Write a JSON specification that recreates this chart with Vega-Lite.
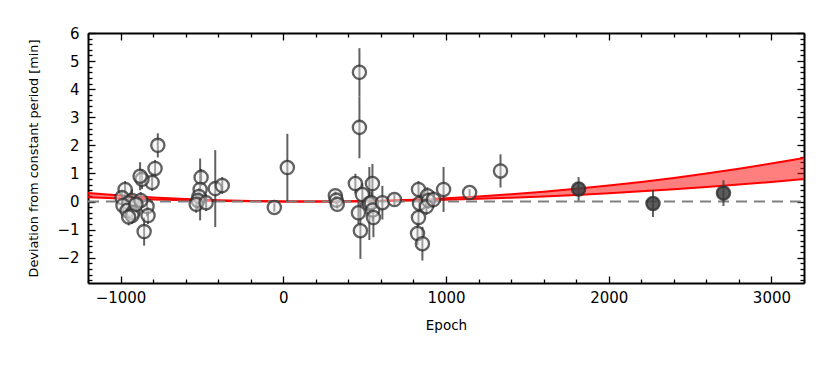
{
  "$schema": "https://vega.github.io/schema/vega-lite/v6.json",
  "width": 716,
  "height": 250,
  "autosize": "none",
  "padding": {"left": 88, "top": 33, "right": 26, "bottom": 83},
  "background": "white",
  "config": {
    "view": {"stroke": null},
    "axis": {
      "labelFont": "DejaVu Sans", "labelFontSize": 15, "labelColor": "black",
      "titleFont": "DejaVu Sans", "titleFontSize": 13.5, "titleFontWeight": "normal", "titleColor": "black",
      "domainColor": "black", "domainWidth": 2, "tickColor": "black", "tickWidth": 1.3, "grid": false
    }
  },
  "datasets": {
    "band": [
      {"epoch": -1200, "lo": 0.150, "hi": 0.300},
      {"epoch": -1000, "lo": 0.108, "hi": 0.217},
      {"epoch": -800, "lo": 0.073, "hi": 0.147},
      {"epoch": -600, "lo": 0.044, "hi": 0.090},
      {"epoch": -400, "lo": 0.023, "hi": 0.047},
      {"epoch": -200, "lo": 0.008, "hi": 0.017},
      {"epoch": 0, "lo": 0.0, "hi": 0.0},
      {"epoch": 200, "lo": -0.001, "hi": -0.003},
      {"epoch": 400, "lo": 0.005, "hi": 0.007},
      {"epoch": 600, "lo": 0.017, "hi": 0.030},
      {"epoch": 800, "lo": 0.036, "hi": 0.067},
      {"epoch": 1000, "lo": 0.063, "hi": 0.117},
      {"epoch": 1200, "lo": 0.095, "hi": 0.181},
      {"epoch": 1400, "lo": 0.135, "hi": 0.258},
      {"epoch": 1600, "lo": 0.182, "hi": 0.348},
      {"epoch": 1800, "lo": 0.235, "hi": 0.451},
      {"epoch": 2000, "lo": 0.295, "hi": 0.568},
      {"epoch": 2200, "lo": 0.362, "hi": 0.699},
      {"epoch": 2400, "lo": 0.436, "hi": 0.842},
      {"epoch": 2600, "lo": 0.517, "hi": 0.999},
      {"epoch": 2800, "lo": 0.604, "hi": 1.169},
      {"epoch": 3000, "lo": 0.699, "hi": 1.353},
      {"epoch": 3200, "lo": 0.800, "hi": 1.550}
    ],
    "pts": [
      {"epoch": -771, "dev": 2.0, "err": 0.43, "kind": "open"},
      {"epoch": -788, "dev": 1.18, "err": 0.3, "kind": "open"},
      {"epoch": -806, "dev": 0.68, "err": 0.3, "kind": "open"},
      {"epoch": -868, "dev": 0.79, "err": 0.35, "kind": "open"},
      {"epoch": -880, "dev": 0.9, "err": 0.5, "kind": "open"},
      {"epoch": -972, "dev": 0.43, "err": 0.3, "kind": "open"},
      {"epoch": -991, "dev": 0.14, "err": 0.25, "kind": "open"},
      {"epoch": -929, "dev": 0.04, "err": 0.4, "kind": "open"},
      {"epoch": -950, "dev": -0.05, "err": 0.3, "kind": "open"},
      {"epoch": -985, "dev": -0.14, "err": 0.2, "kind": "open"},
      {"epoch": -960, "dev": -0.32, "err": 0.3, "kind": "open"},
      {"epoch": -923, "dev": -0.39, "err": 0.3, "kind": "open"},
      {"epoch": -929, "dev": -0.5, "err": 0.3, "kind": "open"},
      {"epoch": -950, "dev": -0.55, "err": 0.3, "kind": "open"},
      {"epoch": -837, "dev": -0.18, "err": 0.35, "kind": "open"},
      {"epoch": -831, "dev": -0.5, "err": 0.3, "kind": "open"},
      {"epoch": -855, "dev": -1.07, "err": 0.5, "kind": "open"},
      {"epoch": -876, "dev": 0.04, "err": 0.3, "kind": "open"},
      {"epoch": -905, "dev": -0.1, "err": 0.3, "kind": "open"},
      {"epoch": -505, "dev": 0.86, "err": 0.3, "kind": "open"},
      {"epoch": -511, "dev": 0.43, "err": 1.1, "kind": "open"},
      {"epoch": -518, "dev": 0.18, "err": 0.3, "kind": "open"},
      {"epoch": -524, "dev": 0.04, "err": 0.3, "kind": "open"},
      {"epoch": -535, "dev": -0.1, "err": 0.3, "kind": "open"},
      {"epoch": -474, "dev": -0.04, "err": 0.3, "kind": "open"},
      {"epoch": -418, "dev": 0.46, "err": 1.37, "kind": "open"},
      {"epoch": -375, "dev": 0.57, "err": 0.3, "kind": "open"},
      {"epoch": -55, "dev": -0.21, "err": 0.15, "kind": "open"},
      {"epoch": 25, "dev": 1.21, "err": 1.2, "kind": "open"},
      {"epoch": 320, "dev": 0.21, "err": 0.15, "kind": "open"},
      {"epoch": 326, "dev": 0.05, "err": 0.15, "kind": "open"},
      {"epoch": 332, "dev": -0.1, "err": 0.15, "kind": "open"},
      {"epoch": 443, "dev": 0.64, "err": 0.35, "kind": "open"},
      {"epoch": 468, "dev": 4.6, "err": 0.86, "kind": "open"},
      {"epoch": 468, "dev": 2.64, "err": 1.1, "kind": "open"},
      {"epoch": 486, "dev": 0.25, "err": 0.4, "kind": "open"},
      {"epoch": 462, "dev": -0.4, "err": 0.4, "kind": "open"},
      {"epoch": 474, "dev": -1.04, "err": 1.0, "kind": "open"},
      {"epoch": 548, "dev": 0.64, "err": 0.7, "kind": "open"},
      {"epoch": 529, "dev": -0.07, "err": 1.3, "kind": "open"},
      {"epoch": 541, "dev": -0.04, "err": 0.4, "kind": "open"},
      {"epoch": 550, "dev": -0.3, "err": 0.4, "kind": "open"},
      {"epoch": 554, "dev": -0.57, "err": 0.7, "kind": "open"},
      {"epoch": 609, "dev": -0.04, "err": 0.6, "kind": "open"},
      {"epoch": 683, "dev": 0.07, "err": 0.2, "kind": "open"},
      {"epoch": 831, "dev": 0.43, "err": 0.3, "kind": "open"},
      {"epoch": 837, "dev": -0.07, "err": 0.3, "kind": "open"},
      {"epoch": 831, "dev": -0.57, "err": 0.3, "kind": "open"},
      {"epoch": 825, "dev": -1.14, "err": 0.4, "kind": "open"},
      {"epoch": 855, "dev": -1.5, "err": 0.6, "kind": "open"},
      {"epoch": 886, "dev": 0.21, "err": 0.3, "kind": "open"},
      {"epoch": 892, "dev": 0.04, "err": 0.3, "kind": "open"},
      {"epoch": 880, "dev": -0.18, "err": 0.3, "kind": "open"},
      {"epoch": 923, "dev": 0.07, "err": 0.3, "kind": "open"},
      {"epoch": 985, "dev": 0.43, "err": 0.8, "kind": "open"},
      {"epoch": 1145, "dev": 0.32, "err": 0.12, "kind": "open"},
      {"epoch": 1335, "dev": 1.09, "err": 0.59, "kind": "open"},
      {"epoch": 1815, "dev": 0.45, "err": 0.42, "kind": "filled"},
      {"epoch": 2272, "dev": -0.07, "err": 0.48, "kind": "filled"},
      {"epoch": 2705, "dev": 0.3, "err": 0.46, "kind": "filled"}
    ]
  },
  "encoding": {
    "x": {"field": "epoch", "type": "quantitative", "scale": {"domain": [-1200, 3200], "nice": false, "zero": false}},
    "y": {"type": "quantitative", "scale": {"domain": [-2.9, 6], "nice": false, "zero": false}}
  },
  "layer": [
    {
      "data": {"name": "band"},
      "mark": {"type": "area", "color": "#ff0000", "opacity": 0.5},
      "encoding": {
        "x": {"field": "epoch", "type": "quantitative", "axis": {"orient": "bottom", "values": [-1000, 0, 1000, 2000, 3000], "tickSize": -7, "labelPadding": 14, "format": "d", "title": "Epoch", "titlePadding": 13, "labelExpr": "replace(datum.label, '-', '\u2212')"}},
        "y": {"field": "lo", "type": "quantitative", "axis": {"orient": "left", "values": [-2, -1, 0, 1, 2, 3, 4, 5, 6], "tickSize": -7, "labelPadding": 16, "title": "Deviation from constant period [min]", "titleFontSize": 12.8, "titlePadding": 16, "labelExpr": "replace(datum.label, '-', '\u2212')"}},
        "y2": {"field": "hi"}
      }
    },
    {
      "data": {"name": "band"},
      "mark": {"type": "line", "color": "#ff0000", "strokeWidth": 2},
      "encoding": {
        "x": {"field": "epoch", "type": "quantitative", "axis": {"orient": "top", "values": [-1000, 0, 1000, 2000, 3000], "tickSize": -7, "labels": false, "title": null}},
        "y": {"field": "lo", "type": "quantitative", "axis": {"orient": "right", "values": [-2, -1, 0, 1, 2, 3, 4, 5, 6], "tickSize": -7, "labels": false, "title": null}}
      }
    },
    {
      "data": {"name": "band"},
      "mark": {"type": "line", "color": "#ff0000", "strokeWidth": 2},
      "encoding": {
        "x": {"field": "epoch", "type": "quantitative", "axis": {"orient": "bottom", "values": [-1200, -800, -600, -400, -200, 200, 400, 600, 800, 1200, 1400, 1600, 1800, 2200, 2400, 2600, 2800, 3200], "tickSize": -4, "labels": false, "domain": false, "title": null}},
        "y": {"field": "hi", "type": "quantitative", "axis": {"orient": "left", "values": [-2.8, -2.6, -2.4, -2.2, -1.8, -1.6, -1.4, -1.2, -0.8, -0.6, -0.4, -0.2, 0.2, 0.4, 0.6, 0.8, 1.2, 1.4, 1.6, 1.8, 2.2, 2.4, 2.6, 2.8, 3.2, 3.4, 3.6, 3.8, 4.2, 4.4, 4.6, 4.8, 5.2, 5.4, 5.6, 5.8], "tickSize": -4, "labels": false, "domain": false, "title": null}}
      }
    },
    {
      "data": {"values": [{"epoch": -1200, "epoch2": 3200, "dev": 0}]},
      "mark": {"type": "rule", "color": "#808080", "strokeWidth": 2, "strokeDash": [11, 7]},
      "encoding": {
        "x": {"field": "epoch", "type": "quantitative", "axis": {"orient": "top", "values": [-1200, -800, -600, -400, -200, 200, 400, 600, 800, 1200, 1400, 1600, 1800, 2200, 2400, 2600, 2800, 3200], "tickSize": -4, "labels": false, "domain": false, "title": null}},
        "x2": {"field": "epoch2"},
        "y": {"field": "dev", "type": "quantitative", "axis": {"orient": "right", "values": [-2.8, -2.6, -2.4, -2.2, -1.8, -1.6, -1.4, -1.2, -0.8, -0.6, -0.4, -0.2, 0.2, 0.4, 0.6, 0.8, 1.2, 1.4, 1.6, 1.8, 2.2, 2.4, 2.6, 2.8, 3.2, 3.4, 3.6, 3.8, 4.2, 4.4, 4.6, 4.8, 5.2, 5.4, 5.6, 5.8], "tickSize": -4, "labels": false, "domain": false, "title": null}}
      }
    },
    {
      "data": {"name": "pts"},
      "mark": {"type": "errorbar", "color": "#3a3a3a", "thickness": 2, "opacity": 0.8},
      "encoding": {
        "x": {"field": "epoch", "type": "quantitative", "axis": null},
        "y": {"field": "dev", "type": "quantitative", "axis": null},
        "yError": {"field": "err"}
      }
    },
    {
      "data": {"name": "pts"},
      "transform": [{"filter": "datum.kind === 'open'"}],
      "mark": {"type": "point", "shape": "circle", "size": 175, "strokeWidth": 2.3, "stroke": "#2e2e2e", "strokeOpacity": 0.75, "fill": "#eeeeee", "fillOpacity": 0.45, "filled": false},
      "encoding": {
        "x": {"field": "epoch", "type": "quantitative", "axis": null},
        "y": {"field": "dev", "type": "quantitative", "axis": null}
      }
    },
    {
      "data": {"name": "pts"},
      "transform": [{"filter": "datum.kind === 'filled'"}],
      "mark": {"type": "point", "shape": "circle", "size": 175, "strokeWidth": 2.3, "stroke": "#2e2e2e", "strokeOpacity": 0.8, "fill": "#404040", "fillOpacity": 0.85, "filled": false},
      "encoding": {
        "x": {"field": "epoch", "type": "quantitative", "axis": null},
        "y": {"field": "dev", "type": "quantitative", "axis": null}
      }
    },
    {
      "data": {"values": [{"label": "WASP-43"}]},
      "mark": {"type": "text", "font": "DejaVu Sans", "fontSize": 16, "align": "right", "baseline": "middle", "color": "black"},
      "encoding": {
        "x": {"datum": 3100, "type": "quantitative", "axis": null},
        "y": {"datum": 4.5, "type": "quantitative", "axis": null},
        "text": {"field": "label"}
      }
    }
  ],
  "resolve": {"axis": {"x": "independent", "y": "independent"}}
}
